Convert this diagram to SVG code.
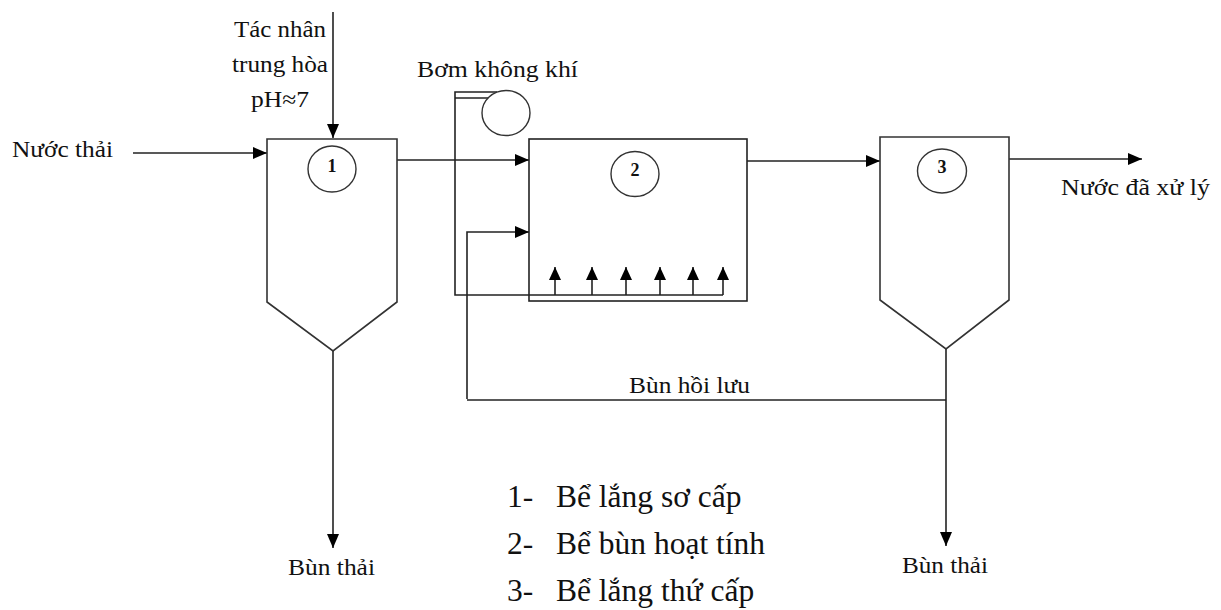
<svg xmlns="http://www.w3.org/2000/svg" width="1221" height="610" viewBox="0 0 1221 610">
<defs>
<marker id="ah" markerUnits="userSpaceOnUse" markerWidth="14" markerHeight="12" refX="14" refY="6" orient="auto">
<path d="M0,0 L14,6 L0,12 z" fill="#000"/>
</marker>
<marker id="ahs" markerUnits="userSpaceOnUse" markerWidth="13" markerHeight="12" refX="13" refY="6" orient="auto">
<path d="M0,0 L13,6 L0,12 z" fill="#000"/>
</marker>
<style>
.ln{fill:none;stroke:#222;stroke-width:1.6}
.tk{fill:#fff;stroke:#333;stroke-width:1.6}
.ci{fill:#fff;stroke:#333;stroke-width:1.4}
.lb{font-family:"Liberation Serif","Times New Roman",serif;font-size:22.5px;fill:#111}
.num{font-family:"Liberation Serif","Times New Roman",serif;font-size:18px;font-weight:bold;fill:#111;text-anchor:middle}
.lg{font-family:"Liberation Serif","Times New Roman",serif;font-size:31.5px;fill:#111}
</style>
</defs>
<rect width="1221" height="610" fill="#fff"/>

<g id="connectors">
<line class="ln" x1="333" y1="12" x2="333" y2="138" marker-end="url(#ah)"/>
<line class="ln" x1="133" y1="153" x2="267" y2="153" marker-end="url(#ah)"/>
<line class="ln" x1="397" y1="160" x2="529" y2="160" marker-end="url(#ah)"/>
<line class="ln" x1="747" y1="161" x2="880" y2="161" marker-end="url(#ah)"/>
<line class="ln" x1="1009" y1="159" x2="1142" y2="159" marker-end="url(#ah)"/>
<polyline class="ln" points="467,399 467,232 529,232" marker-end="url(#ah)"/>
<line class="ln" x1="467" y1="400" x2="946" y2="400"/>
<line class="ln" x1="333" y1="351" x2="333" y2="548" marker-end="url(#ah)"/>
<line class="ln" x1="946" y1="349" x2="946" y2="546" marker-end="url(#ah)"/>
<polyline class="ln" points="497,92 455,92 455,295 723,295"/>
<line class="ln" x1="455" y1="98" x2="488" y2="98"/>
<line class="ln" x1="555" y1="295" x2="555" y2="267" marker-end="url(#ahs)"/>
<line class="ln" x1="592" y1="295" x2="592" y2="267" marker-end="url(#ahs)"/>
<line class="ln" x1="626" y1="295" x2="626" y2="267" marker-end="url(#ahs)"/>
<line class="ln" x1="660" y1="295" x2="660" y2="267" marker-end="url(#ahs)"/>
<line class="ln" x1="693" y1="295" x2="693" y2="267" marker-end="url(#ahs)"/>
<line class="ln" x1="723" y1="295" x2="723" y2="267" marker-end="url(#ahs)"/>
</g>

<g id="tank1">
<path class="tk" d="M267,139 L397,139 L397,302 L333,351 L267,302 Z" fill="none"/>
<ellipse class="ci" cx="332" cy="169" rx="24" ry="23"/>
<text class="num" x="332" y="172">1</text>
</g>

<g id="tank2">
<rect x="529" y="139" width="218" height="162" fill="none" stroke="#222" stroke-width="1.6"/>
<ellipse class="ci" cx="635" cy="174" rx="24" ry="22.5"/>
<text class="num" x="635" y="176">2</text>
</g>

<g id="tank3">
<path class="tk" d="M880,137 L1009,137 L1009,300 L946,349 L880,300 Z" fill="none"/>
<ellipse class="ci" cx="942" cy="171" rx="24.5" ry="22"/>
<text class="num" x="942" y="173">3</text>
</g>

<g id="pump">
<ellipse class="ci" cx="506" cy="113" rx="24" ry="22.5" fill="none"/>
</g>

<g id="labels">
<text class="lb" x="280" y="37" text-anchor="middle" textLength="92" lengthAdjust="spacingAndGlyphs">Tác nhân</text>
<text class="lb" x="280" y="72" text-anchor="middle" textLength="96" lengthAdjust="spacingAndGlyphs">trung hòa</text>
<text class="lb" x="280" y="107" text-anchor="middle" textLength="58" lengthAdjust="spacingAndGlyphs">pH≈7</text>
<text class="lb" x="12" y="157" textLength="101" lengthAdjust="spacingAndGlyphs">Nước thải</text>
<text class="lb" x="417" y="77" textLength="161" lengthAdjust="spacingAndGlyphs">Bơm không khí</text>
<text class="lb" x="1061" y="195" textLength="149" lengthAdjust="spacingAndGlyphs">Nước đã xử lý</text>
<text class="lb" x="629" y="393" textLength="121" lengthAdjust="spacingAndGlyphs">Bùn hồi lưu</text>
<text class="lb" x="288" y="575" textLength="87" lengthAdjust="spacingAndGlyphs">Bùn thải</text>
<text class="lb" x="902" y="573" textLength="86" lengthAdjust="spacingAndGlyphs">Bùn thải</text>
</g>

<g id="legend">
<text class="lg" x="507" y="507">1-</text><text class="lg" x="556" y="507">Bể lắng sơ cấp</text>
<text class="lg" x="507" y="554">2-</text><text class="lg" x="556" y="554">Bể bùn hoạt tính</text>
<text class="lg" x="507" y="601">3-</text><text class="lg" x="556" y="601">Bể lắng thứ cấp</text>
</g>
</svg>
